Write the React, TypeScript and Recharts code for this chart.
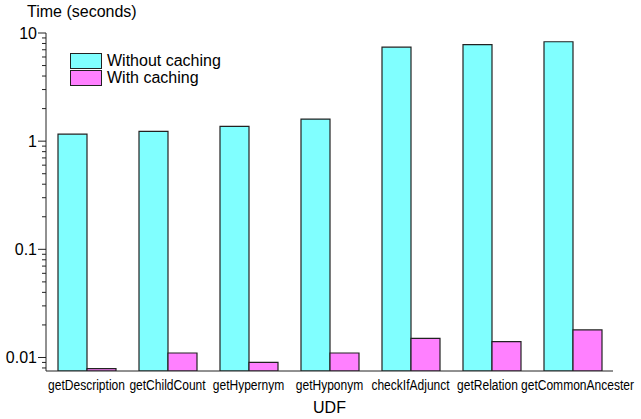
import { Bar, BarChart, Legend, XAxis, YAxis } from "recharts";

const udfs = [
  "getDescription",
  "getChildCount",
  "getHypernym",
  "getHyponym",
  "checkIfAdjunct",
  "getRelation",
  "getCommonAncester",
];
const withoutCaching = [1.16, 1.23, 1.37, 1.6, 7.4, 7.8, 8.3];
const withCaching = [0.0079, 0.011, 0.009, 0.011, 0.015, 0.014, 0.018];

const seriesNames = ["Without caching", "With caching"];
const seriesColors = ["#80FFFF", "#FF80FF"];

const majorTicks = [0.01, 0.1, 1, 10];
const minorTicks = [
  0.008, 0.009,
  0.02, 0.03, 0.04, 0.05, 0.06, 0.07, 0.08, 0.09,
  0.2, 0.3, 0.4, 0.5, 0.6, 0.7, 0.8, 0.9,
  2, 3, 4, 5, 6, 7, 8, 9,
];

const data = udfs.map((name, i) => ({
  name,
  without: withoutCaching[i],
  with: withCaching[i],
}));

const FONT = '"Liberation Sans", Arial, sans-serif';
const INK = "#222";

// the last two labels are pushed apart a little in the original
const labelNudge: Record<string, number> = { getRelation: -4, getCommonAncester: 5 };

function YTick({ x, y, payload }: any) {
  const major = majorTicks.includes(payload.value);
  const len = major ? 8 : 4;
  return (
    <g>
      <line x1={x - len} x2={x} y1={y} y2={y} stroke={INK} />
      {major && (
        <text x={x - len - 1} y={y} dy="0.36em" textAnchor="end" fontSize={16} fontFamily={FONT} fill="#000">
          {String(payload.value)}
        </text>
      )}
    </g>
  );
}

// labels in the original are a condensed face; squeeze horizontally
function XTick({ x, y, payload }: any) {
  const dx = labelNudge[payload.value] ?? 0;
  return (
    <g transform={`translate(${x + dx},${y + 7}) scale(0.83,1)`}>
      <text x={0} y={0} dy="0.71em" textAnchor="middle" fontSize={14.5} fontFamily={FONT} fill="#000">
        {payload.value}
      </text>
    </g>
  );
}

function CacheLegend() {
  return (
    <div style={{ fontFamily: FONT, fontSize: 16, lineHeight: "17px" }}>
      {seriesNames.map((name, i) => (
        <div key={name} style={{ display: "flex", alignItems: "center", height: 17 }}>
          <span
            style={{
              width: 30,
              height: 14,
              background: seriesColors[i],
              border: `1px solid ${INK}`,
              marginRight: 5,
            }}
          />
          <span>{name}</span>
        </div>
      ))}
    </div>
  );
}

export default function App() {
  return (
    <div style={{ position: "absolute", left: 0, top: 0, width: 641, height: 419, background: "#fff" }}>
      <div
        style={{
          position: "absolute",
          left: 27,
          top: 3,
          fontFamily: FONT,
          fontSize: 16,
          color: "#000",
        }}
      >
        Time (seconds)
      </div>
      <BarChart
        width={641}
        height={419}
        data={data}
        margin={{ top: 33, right: 28, bottom: 0, left: 0 }}
        barCategoryGap={12}
        barGap={0}
      >
        <XAxis
          dataKey="name"
          height={48}
          interval={0}
          tickLine={false}
          tickSize={0}
          stroke={INK}
          tick={<XTick />}
          label={{ value: "UDF", position: "insideBottom", offset: 6, fontSize: 16, fontFamily: FONT, fill: "#000" }}
        />
        <XAxis xAxisId="top" orientation="top" height={0} tick={false} tickLine={false} stroke="#555" />
        <YAxis
          scale="log"
          domain={[0.0075, 10]}
          allowDataOverflow
          ticks={[...minorTicks, ...majorTicks].sort((a, b) => a - b)}
          interval={0}
          width={46}
          tickLine={false}
          tickSize={0}
          tickMargin={0}
          stroke={INK}
          tick={<YTick />}
        />
        <YAxis yAxisId="right" orientation="right" width={0} tick={false} tickLine={false} stroke={INK} />
        <Legend
          layout="vertical"
          align="center"
          verticalAlign="middle"
          wrapperStyle={{ left: 70, top: 52, width: 200 }}
          content={<CacheLegend />}
        />
        <Bar dataKey="without" name={seriesNames[0]} fill={seriesColors[0]} stroke={INK} strokeWidth={1.2} isAnimationActive={false} />
        <Bar dataKey="with" name={seriesNames[1]} fill={seriesColors[1]} stroke={INK} strokeWidth={1.2} isAnimationActive={false} />
      </BarChart>
    </div>
  );
}
